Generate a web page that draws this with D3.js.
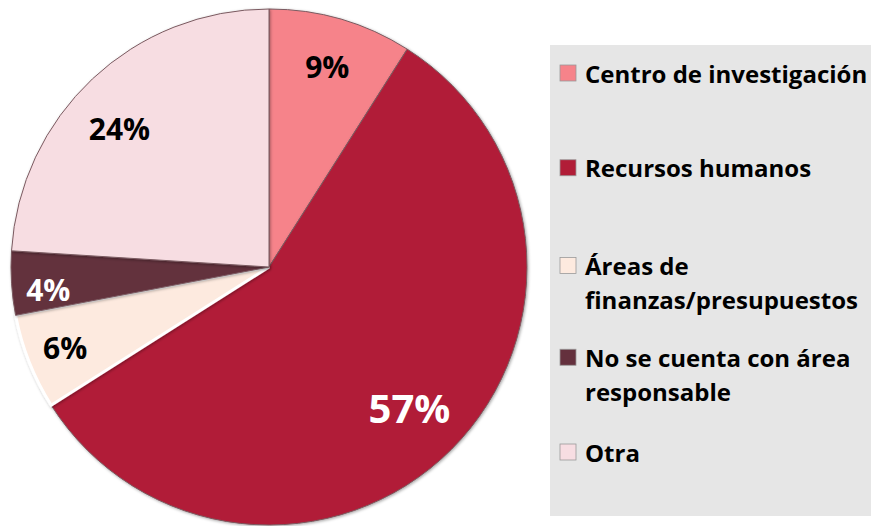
<!DOCTYPE html>
<html>
<head>
<meta charset="utf-8">
<script src="https://cdn.jsdelivr.net/npm/d3@7"></script>
<style>
  body { margin: 0; background: #fff; }
  svg { display: block; }
  text { font-family: "Open Sans", Lato, sans-serif; font-weight: bold; }
</style>
</head>
<body>
<svg id="chart" width="871" height="526"></svg>
<script>
// data
const categories = ["Centro de investigación", "Recursos humanos", "Áreas de finanzas/presupuestos", "No se cuenta con área responsable", "Otra"];
const legendLines = [["Centro de investigación"], ["Recursos humanos"], ["Áreas de", "finanzas/presupuestos"], ["No se cuenta con área", "responsable"], ["Otra"]];
const values = [9, 57, 6, 4, 24];
const colors = ["#F6838A", "#B11D37", "#FDEADF", "#64303D", "#F7DDE2"];
const labelColors = ["#000", "#fff", "#000", "#fff", "#000"];

const svg = d3.select("#chart");
const cx = 269, cy = 267, R = 258;
// label distance from centre (share of radius) and small angle nudge (radians)
const labelR = [0.81, 0.77, 0.85, 0.86, 0.79];
const labelNudge = [0, 0, 0, -0.04, -0.07];

const defs = svg.append("defs");
const f = defs.append("filter").attr("id", "shadow").attr("x", "-10%").attr("y", "-10%").attr("width", "120%").attr("height", "120%");
f.append("feDropShadow").attr("dx", 1).attr("dy", 1).attr("stdDeviation", 1.5).attr("flood-color", "#000").attr("flood-opacity", 0.35);

const pie = d3.pie().sort(null).value(d => d);
const arcs = pie(values);
const arc = d3.arc().innerRadius(0).outerRadius(R);

const g = svg.append("g").attr("transform", `translate(${cx},${cy})`);

g.selectAll("path.slice")
  .data(arcs)
  .join("path")
  .attr("class", "slice")
  .attr("d", arc)
  .attr("fill", (d, i) => colors[i])
  .attr("stroke", (d, i) => i === 2 ? "#fff" : "#7a5a60")
  .attr("stroke-width", (d, i) => i === 2 ? 3 : 1)
  .attr("filter", "url(#shadow)");

g.selectAll("text.lbl")
  .data(arcs)
  .join("text")
  .attr("class", "lbl")
  .attr("transform", (d, i) => {
    const la = d3.arc().innerRadius(R * labelR[i]).outerRadius(R * labelR[i]);
    const dd = {startAngle: d.startAngle + labelNudge[i], endAngle: d.endAngle + labelNudge[i]};
    return `translate(${la.centroid(dd)})`;
  })
  .attr("text-anchor", "middle")
  .attr("dominant-baseline", "central")
  .attr("fill", (d, i) => labelColors[i])
  .attr("font-size", (d, i) => i === 1 ? 40 : 30)
  .text(d => d.data + "%");

// legend
const lg = svg.append("g");
lg.append("rect").attr("x", 550).attr("y", 45).attr("width", 321).attr("height", 471).attr("fill", "#E6E6E6");

const legendY = d3.scalePoint().domain(categories).range([73, 452]);
const lineH = 34;

const items = lg.selectAll("g.item")
  .data(categories)
  .join("g")
  .attr("class", "item")
  .attr("transform", (d, i) => `translate(560,${legendY(d) + (i === 2 ? 3 : 0)})`);

items.append("rect")
  .attr("x", 0).attr("y", -8)
  .attr("width", 16).attr("height", 16)
  .attr("fill", (d, i) => colors[i])
  .attr("stroke", "#999").attr("stroke-width", 0.8);

items.append("text")
  .attr("x", 25)
  .attr("font-size", 24)
  .attr("fill", "#000")
  .selectAll("tspan")
  .data((d, i) => legendLines[i])
  .join("tspan")
  .attr("x", 25)
  .attr("y", (d, j) => j * lineH)
  .attr("dominant-baseline", "central")
  .text(d => d);
</script>
</body>
</html>
